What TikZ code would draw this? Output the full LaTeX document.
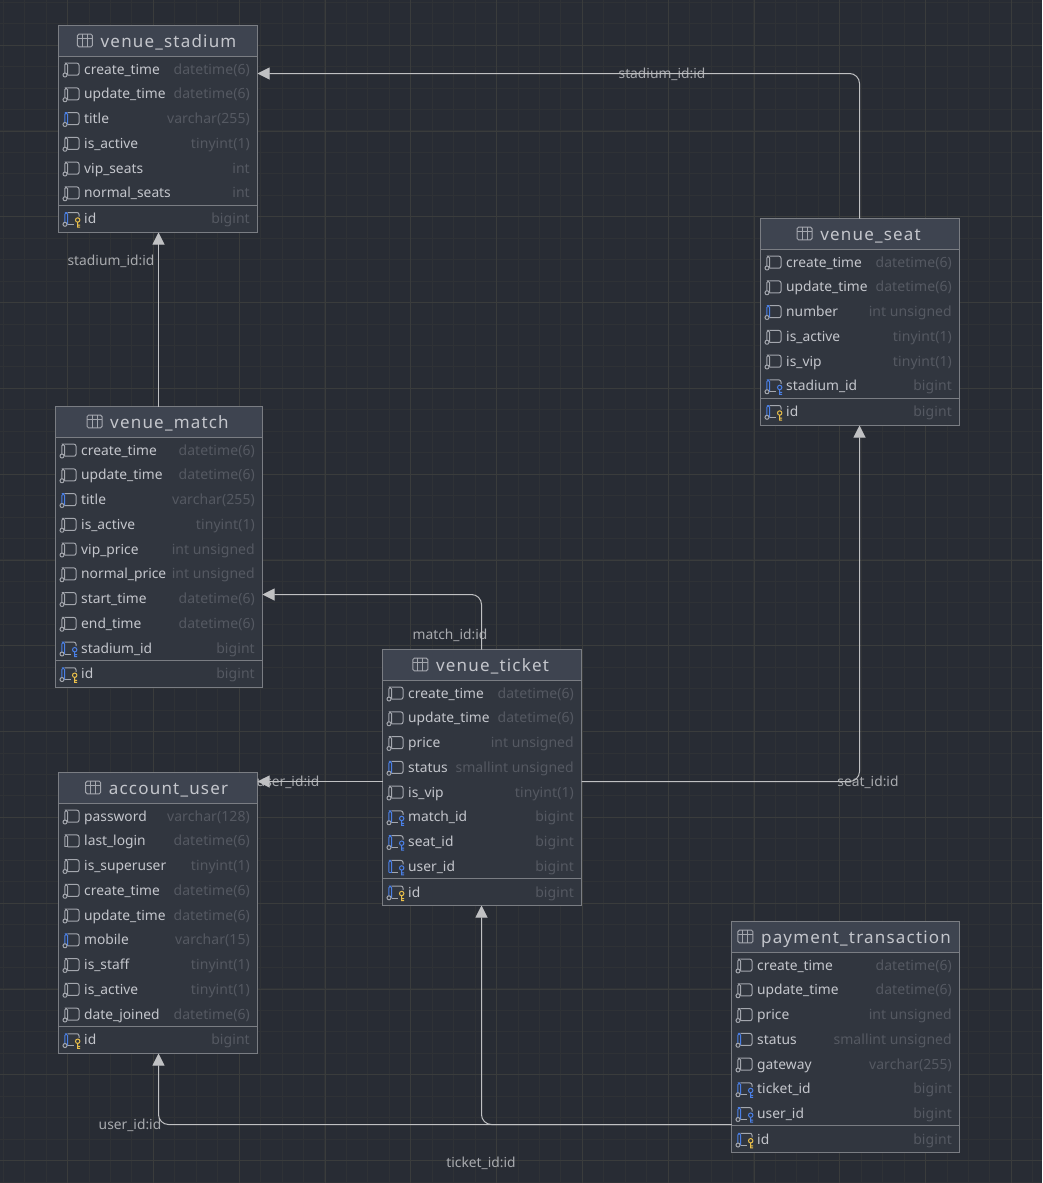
\documentclass[tikz,border=0pt]{standalone}
\usepackage{fontspec}
\setmainfont{Noto Sans}
\newfontfamily\titlefont[LetterSpace=7]{Noto Sans}
\newfontfamily\typefont[LetterSpace=.5]{Noto Sans}
\usetikzlibrary{arrows.meta}

\definecolor{bgcol}{HTML}{282C34}
\definecolor{gridminor}{HTML}{2F3236}
\definecolor{gridmajor}{HTML}{3A3C3C}
\definecolor{tablecol}{HTML}{31363F}
\definecolor{headcol}{HTML}{3E4450}
\definecolor{bordercol}{HTML}{7A7D83}
\definecolor{namecol}{HTML}{C4C6CC}
\definecolor{typecol}{HTML}{555962}
\definecolor{iconcol}{HTML}{A4A7AE}
\definecolor{bluecol}{HTML}{4A80E8}
\definecolor{goldcol}{HTML}{EBC04A}
\definecolor{edgecol}{HTML}{C0C1C3}
\definecolor{labelcol}{HTML}{A9ABAF}

\tikzset{
  tablebox/.style={draw=bordercol,fill=tablecol,line width=1pt,anchor=north west,inner sep=0pt,outer sep=0pt},
  tabletitle/.style={text=namecol,font=\titlefont\fontsize{17}{17}\selectfont,inner sep=0pt,text height=14.6pt,text depth=4pt},
  colname/.style={text=namecol,font=\fontsize{13.8}{14}\selectfont,anchor=west,inner sep=0pt,text height=12pt,text depth=3pt},
  coltype/.style={text=typecol,font=\typefont\fontsize{14}{14}\selectfont,anchor=east,inner sep=0pt,text height=12pt,text depth=3pt},
  fkline/.style={draw=edgecol,line width=1pt,rounded corners=10pt,-{Triangle[width=12pt,length=12pt,fill=edgecol]}},
  fklabel/.style={text=labelcol,font=\fontsize{13.8}{14}\selectfont,inner sep=0pt,text height=13pt,text depth=3pt},
  colicon/.style={line width=1pt,draw=iconcol},
}

% icon body: #1 = colour of the left part
\newcommand{\iconleft}[1]{
\draw[colicon,draw=#1,rounded corners=1.7pt] (9.5,5.5)--(9.5,-6.5)--(6.8,-6.5)--(6.8,5.5);
}
\newcommand{\iconcircle}{
\draw[colicon,fill=tablecol] (7,5.3) circle (2);
}
\newcommand{\iconkey}[1]{
\draw[colicon,rounded corners=2pt] (9.5,-6.5)--(21,-6.5)--(21,-2.5);
\draw[colicon] (9.5,5.5)--(16,5.5);
\draw[colicon,draw=#1] (19.7,1) circle (2.2) (19.7,3.2)--(19.7,8)--(22,8) (19.7,6)--(22,6);
}
\newcommand{\iconp}{\iconleft{iconcol}
\draw[colicon,rounded corners=2pt] (9.5,-6.5)--(21,-6.5)--(21,5.5)--(9.5,5.5);
\iconcircle}
\newcommand{\icong}{\iconleft{iconcol}
\draw[colicon,rounded corners=2pt] (9.5,-6.5)--(21,-6.5)--(21,5.5)--(9.5,5.5);
\draw[colicon] (6.8,5.5)--(9.5,5.5);}
\newcommand{\iconb}{\iconleft{bluecol}
\draw[colicon,rounded corners=2pt] (9.5,-6.5)--(21,-6.5)--(21,5.5)--(9.5,5.5);
\iconcircle}
\newcommand{\iconf}{\iconleft{bluecol}\iconkey{bluecol}\iconcircle}
\newcommand{\iconu}{\iconleft{bluecol}\iconkey{bluecol}
\draw[colicon,draw=bluecol] (6.8,5.5)--(9.5,5.5);}
\newcommand{\iconk}{\iconleft{bluecol}\iconkey{goldcol}\iconcircle}

% #1 name, #2 x, #3 y, #4 width, #5 height, #6 title, #7 rows
\newcommand{\dbtable}[7]{
\node[tablebox,minimum width=#4pt-1pt,minimum height=#5pt] (#1) at (#2+.5,#3-.5) {};
\fill[headcol] (#2+1,#3) rectangle (#2+#4-1,#3+30.5);
\draw[bordercol] (#2+.5,#3+30.5)--(#2+#4-.5,#3+30.5);
\node[tabletitle] (#1-title) at (#2+#4/2+10.5,#3+16) {#6};
\draw[iconcol,line width=1pt,rounded corners=1.5pt] ([shift={(-23,-7.8)}]#1-title.west) rectangle ([shift={(-8,4.8)}]#1-title.west);
\draw[iconcol,line width=1pt] ([shift={(-23,-4)}]#1-title.west)--([shift={(-8,-4)}]#1-title.west)
  ([shift={(-18,-7.8)}]#1-title.west)--([shift={(-18,4.8)}]#1-title.west)
  ([shift={(-13,-7.8)}]#1-title.west)--([shift={(-13,4.8)}]#1-title.west);
\foreach \colt/\typt/\kind [count=\i from 0] in {#7}{
  \ifx\kind\keykind
    \pgfmathsetmacro{\ry}{#3+43.7+\i*24.75+.8}
    \pgfmathsetmacro{\sy}{round(\ry-14.5)+.5}
    \draw[bordercol] (#2+.5,\sy)--(#2+#4-.5,\sy);
  \else
    \pgfmathsetmacro{\ry}{#3+43.7+\i*24.75}
  \fi
  \begin{scope}[shift={(#2,\ry)}]
  \csname icon\kind\endcsname
  \end{scope}
  \node[colname] (#1-n\i) at (#2+26,\ry) {\colt};
  \node[coltype] (#1-t\i) at (#2+#4-8,\ry) {\typt};
}
}
\def\keykind{k}
\newcommand{\ru}{\hspace{3pt}}

\begin{document}
\begin{tikzpicture}[x=1pt,y=-1pt]
\useasboundingbox (0,0) rectangle (1042,1183);
\fill[bgcol] (0,0) rectangle (1042,1183);

% grid
\foreach \i in {0,1,...,49}{
\pgfmathsetmacro{\gx}{floor(3.25+\i*21.45)+.5}
\draw[gridminor,line width=1pt] (\gx,0)--(\gx,1183);
}
\foreach \i in {0,1,...,56}{
\pgfmathsetmacro{\gy}{floor(2.3+\i*21.45)+.5}
\draw[gridminor,line width=1pt] (0,\gy)--(1042,\gy);
}
\foreach \i in {0,1,...,12}{
\pgfmathsetmacro{\gx}{floor(67.6+\i*85.8-85.8)+.5}
\draw[gridmajor,line width=1pt] (\gx,0)--(\gx,1183);
}
\foreach \i in {0,1,...,13}{
\pgfmathsetmacro{\gy}{floor(45.2+\i*85.8)+.5}
\draw[gridmajor,line width=1pt] (0,\gy)--(1042,\gy);
}

% tables
\dbtable{stadium}{58}{26}{200}{207}{venue\_stadium}{
create\_time/datetime(6)/p,update\_time/datetime(6)/p,title/varchar(255)/b,
is\_active/tinyint(1)/p,vip\_seats/int/p,normal\_seats/int/p,id/bigint/k}

\dbtable{seat}{760}{219}{200}{207}{venue\_seat}{
create\_time/datetime(6)/p,update\_time/datetime(6)/p,number/int unsigned\ru/b,
is\_active/tinyint(1)/p,is\_vip/tinyint(1)/p,stadium\_id/bigint/f,id/bigint/k}

\dbtable{match}{55}{407}{208}{281}{venue\_match}{
create\_time/datetime(6)/p,update\_time/datetime(6)/p,title/varchar(255)/b,
is\_active/tinyint(1)/p,vip\_price/int unsigned\ru/p,normal\_price/int unsigned\ru/p,
start\_time/datetime(6)/p,end\_time/datetime(6)/p,stadium\_id/bigint/f,id/bigint/k}

\dbtable{ticket}{382}{650}{200}{256}{venue\_ticket}{
create\_time/datetime(6)/p,update\_time/datetime(6)/p,price/int unsigned\ru/p,
status/smallint unsigned\ru/b,is\_vip/tinyint(1)/p,match\_id/bigint/f,seat\_id/bigint/f,
user\_id/bigint/u,id/bigint/k}

\dbtable{user}{58}{773}{200}{281}{account\_user}{
password/varchar(128)/p,last\_login/datetime(6)/g,is\_superuser/tinyint(1)/p,
create\_time/datetime(6)/p,update\_time/datetime(6)/p,mobile/varchar(15)/b,
is\_staff/tinyint(1)/p,is\_active/tinyint(1)/p,date\_joined/datetime(6)/p,id/bigint/k}

\dbtable{payment}{731}{922}{229}{231}{payment\_transaction}{
create\_time/datetime(6)/p,update\_time/datetime(6)/p,price/int unsigned\ru/p,
status/smallint unsigned\ru/b,gateway/varchar(255)/p,ticket\_id/bigint/f,
user\_id/bigint/f,id/bigint/k}

% labels
\node[fklabel] (lseat) at (662,73) {stadium\_id:id};
\node[fklabel] (lmatch) at (111,260) {stadium\_id:id};
\node[fklabel] (lticket) at (450,634) {match\_id:id};
\node[fklabel] (luser) at (288,781) {user\_id:id};
\node[fklabel] (lseatid) at (868,781) {seat\_id:id};
\node[fklabel] (lpayuser) at (130,1124) {user\_id:id};
\node[fklabel] (lpayticket) at (481,1162) {ticket\_id:id};

% connectors
\draw[fkline] (158.5,0 |- match.north) -- (158.5,0 |- stadium.south);
\draw[fkline] (859.5,0 |- seat.north) |- (stadium.east |- 0,73.5);
\draw[fkline] (481.5,0 |- ticket.north) |- (match.east |- 0,594.5);
\draw[fkline] (ticket.west |- 0,781.5) -- (user.east |- 0,781.5);
\draw[fkline] (ticket.east |- 0,781.5) -| (859.5,0 |- seat.south);
\draw[fkline] (payment.west |- 0,1124.5) -| (481.5,0 |- ticket.south);
\draw[fkline] (payment.west |- 0,1124.5) -| (158.5,0 |- user.south);
\end{tikzpicture}
\end{document}
